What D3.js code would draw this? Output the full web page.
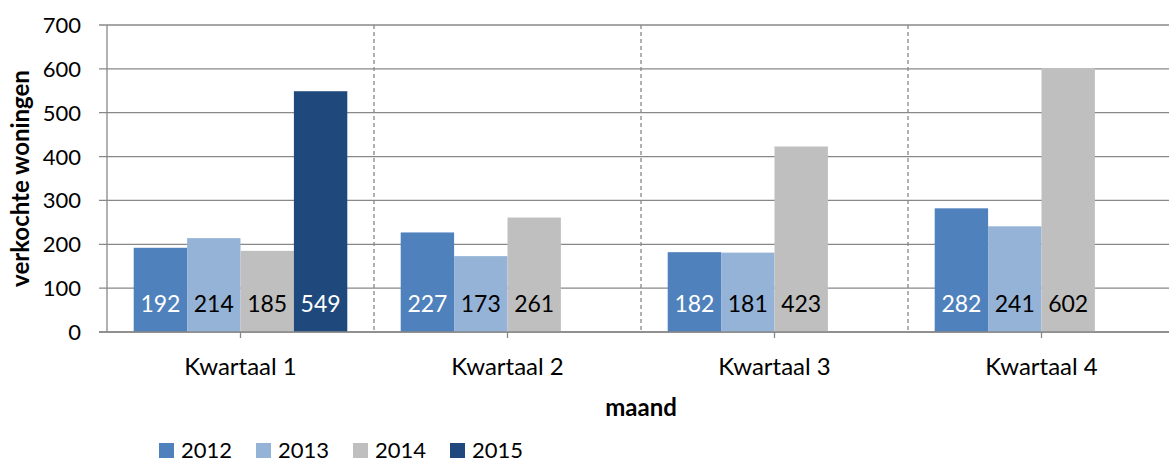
<!DOCTYPE html>
<html><head><meta charset="utf-8">
<script src="https://cdn.jsdelivr.net/npm/d3@7"></script>
<style>body{margin:0;background:#fff}svg{display:block}text{font-family:Lato,"Open Sans",sans-serif}</style>
</head><body><svg id="c" width="1169" height="462"></svg>
<script>
const categories = ["Kwartaal 1","Kwartaal 2","Kwartaal 3","Kwartaal 4"];
const seriesNames = ["2012","2013","2014","2015"];
const v2012 = [192,227,182,282];
const v2013 = [214,173,181,241];
const v2014 = [185,261,423,602];
const v2015 = [549,null,null,null];
const yTicks = [0,100,200,300,400,500,600,700];
const colors = ["#4F81BD","#95B3D7","#BFBFBF","#1F497D"];
const labelColors = ["#fff","#000","#000","#fff"];
const series = [v2012,v2013,v2014,v2015];

const svg = d3.select("#c");
const L = 107, T = 25, B = 332, W = 267*4;
const x = d3.scaleBand().domain(categories).range([L, L+W]).paddingInner(0).paddingOuter(0);
const y = d3.scaleLinear().domain([0,700]).range([B, T]);
const gap = x.bandwidth()/5/2;
const xi = d3.scaleBand().domain(seriesNames).range([gap, x.bandwidth()-gap]);

svg.append("g").selectAll("line").data(yTicks).join("line")
  .attr("x1", 99).attr("x2", L+W).attr("y1", d=>y(d)).attr("y2", d=>y(d))
  .attr("stroke", "#888").attr("stroke-width", 1.3);
svg.append("g").selectAll("line").data(categories.slice(1)).join("line")
  .attr("x1", d=>x(d)).attr("x2", d=>x(d)).attr("y1", T).attr("y2", B)
  .attr("stroke", "#888").attr("stroke-width", 1.3).attr("stroke-dasharray", "4,3");

const flat = [];
categories.forEach((c,i)=>series.forEach((s,j)=>{ if(s[i]!=null) flat.push({c, s:seriesNames[j], v:s[i], j}); }));
svg.append("g").selectAll("rect").data(flat).join("rect")
  .attr("x", d=>x(d.c)+xi(d.s)).attr("width", xi.bandwidth())
  .attr("y", d=>y(d.v)).attr("height", d=>B-y(d.v))
  .attr("fill", d=>colors[d.j]);
svg.append("g").selectAll("text").data(flat).join("text")
  .attr("x", d=>x(d.c)+xi(d.s)+xi.bandwidth()/2).attr("y", 312)
  .attr("text-anchor","middle").attr("font-size", 23)
  .attr("fill", d=>labelColors[d.j]).text(d=>d.v);

svg.append("line").attr("x1", L).attr("x2", L).attr("y1", T).attr("y2", B).attr("stroke","#888").attr("stroke-width",1.3);
svg.append("line").attr("x1", 99).attr("x2", L+W).attr("y1", B).attr("y2", B).attr("stroke","#888").attr("stroke-width",1.3);
svg.append("g").selectAll("line").data(categories).join("line")
  .attr("x1", d=>x(d)+x.bandwidth()/2).attr("x2", d=>x(d)+x.bandwidth()/2)
  .attr("y1", B).attr("y2", B+6).attr("stroke","#888").attr("stroke-width",1.3);

svg.append("g").selectAll("text").data(yTicks).join("text")
  .attr("x", 81).attr("y", d=>y(d)+8).attr("text-anchor","end").attr("font-size", 22).attr("fill","#000").text(d=>d);
svg.append("g").selectAll("text").data(categories).join("text")
  .attr("x", d=>x(d)+x.bandwidth()/2).attr("y", 375).attr("text-anchor","middle").attr("font-size", 24).attr("fill","#000").text(d=>d);

svg.append("text").attr("x", L+534).attr("y", 416).attr("text-anchor","middle").attr("font-size",24).attr("font-weight","bold").text("maand");
svg.append("text").attr("transform", `translate(29,${(T+B)/2}) rotate(-90)`).attr("text-anchor","middle").attr("font-size",24).attr("font-weight","bold").text("verkochte woningen");

const lg = svg.append("g").selectAll("g").data(seriesNames).join("g")
  .attr("transform", (d,i)=>`translate(${159+i*97},0)`);
lg.append("rect").attr("x",0).attr("y",443).attr("width",15).attr("height",15).attr("fill",(d,i)=>colors[i]);
lg.append("text").attr("x",22).attr("y",458).attr("font-size",22).attr("fill","#000").text(d=>d);
</script></body></html>
